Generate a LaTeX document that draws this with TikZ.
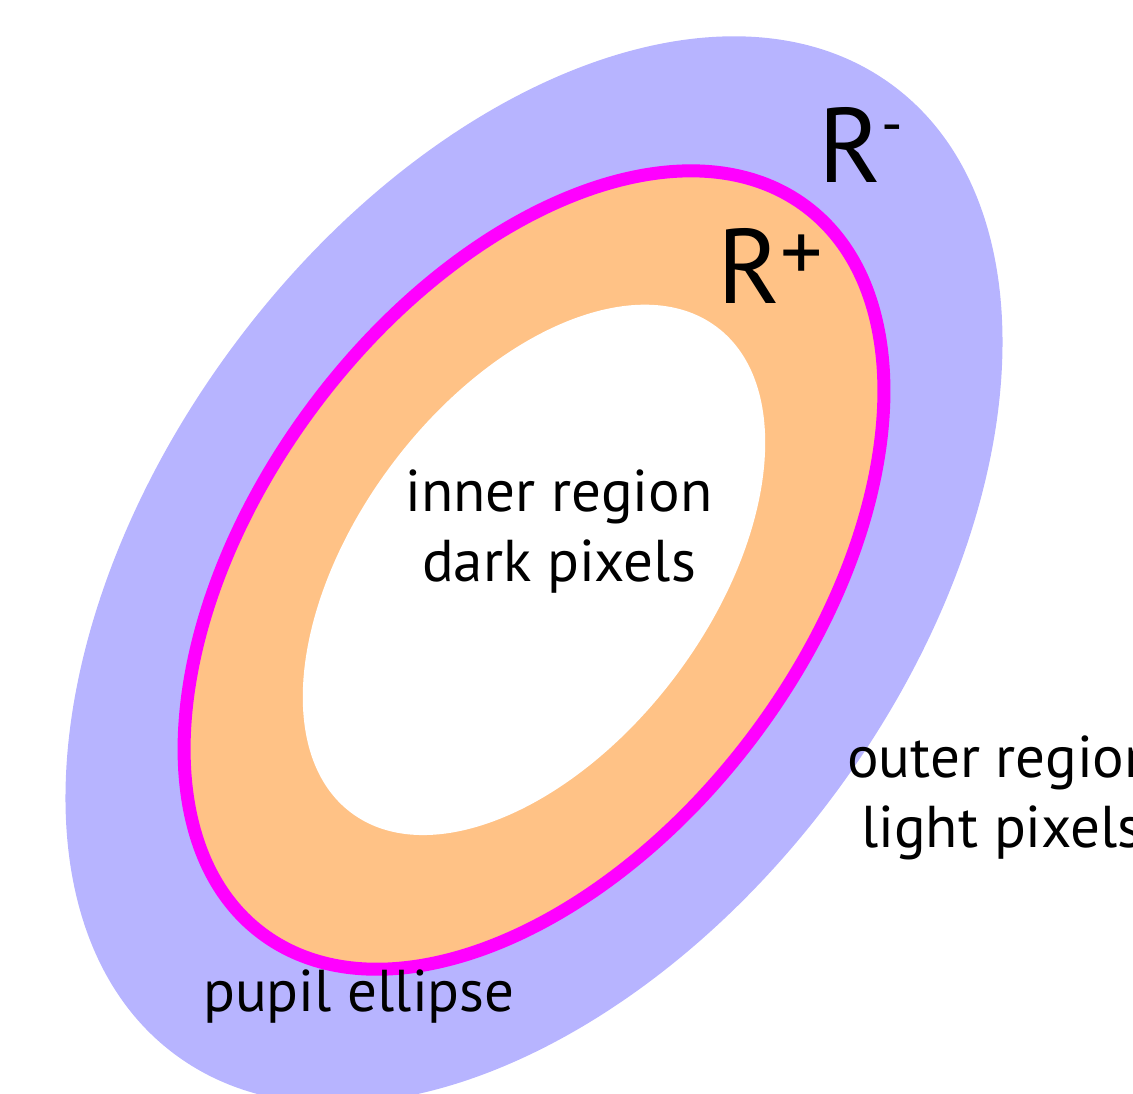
\documentclass[tikz,border=0pt]{standalone}
\usepackage{fontspec}
\setmainfont{PT Sans}
\usepackage{tikz}
\usetikzlibrary{positioning}
\definecolor{outerc}{RGB}{183,180,255}
\definecolor{bandc}{RGB}{255,194,134}
\definecolor{pupilc}{RGB}{255,0,255}
\tikzset{
  txt/.style={inner sep=0pt,align=center,font=\fontsize{59}{70}\selectfont},
  rlab/.style={inner sep=0pt,anchor=base west,font=\fontsize{106}{110}\selectfont},
}
\newcommand{\supmark}[3]{\raisebox{#1}{\fontsize{#2}{#2}\selectfont #3}}
\begin{document}
\begin{tikzpicture}[x=1pt,y=1pt]
\clip (0,0) rectangle (1133,1094);
\coordinate (c) at (534,524);
% regions round the pupil
\fill[outerc,rotate around={53.5:(c)}] (c) ellipse [x radius=603,y radius=375];
\filldraw[fill=bandc,draw=pupilc,line width=13pt,rotate around={53.2:(c)}] (c) ellipse [x radius=454,y radius=275];
\fill[white,rotate around={53:(c)}] (c) ellipse [x radius=304,y radius=177];
% labels
\node[rlab] (rminus) at (818,911) {R\supmark{38pt}{60}{-}};
\node[rlab] (rplus) at (717,790) {R\supmark{22pt}{84}{+}};
\node[txt,anchor=base] (inner) at (559,512) {inner region\\dark pixels};
\node[txt,anchor=base] (outer) at (1002,246) {outer region\\light pixels};
\node[txt,anchor=base west] (pupil) at (203,82) {pupil ellipse};
\end{tikzpicture}
\end{document}
